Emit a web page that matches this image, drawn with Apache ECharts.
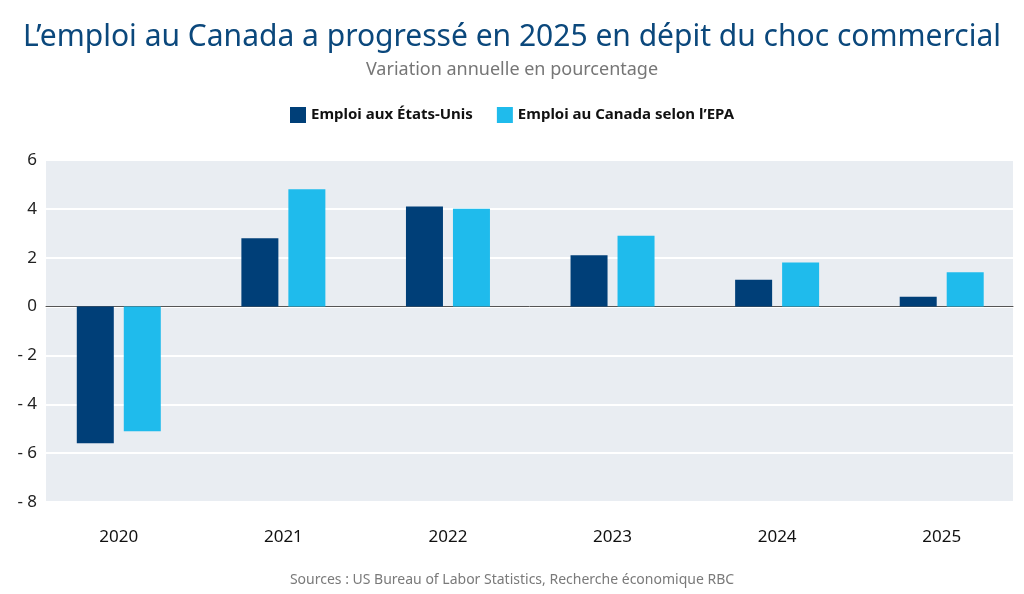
<!DOCTYPE html>
<html>
<head>
<meta charset="utf-8">
<title>Emploi Canada / États-Unis</title>
<script src="https://cdn.jsdelivr.net/npm/echarts@6/dist/echarts.min.js"></script>
<style>
  html, body { margin: 0; padding: 0; background: #fff; }
  #chart { width: 1024px; height: 594px; }
</style>
</head>
<body>
<div id="chart"></div>
<script>
// données (variation annuelle en %)
var years = ['2020', '2021', '2022', '2023', '2024', '2025'];
var usEmploi = [-5.6, 2.8, 4.1, 2.1, 1.1, 0.4];
var caEmploi = [-5.1, 4.8, 4.0, 2.9, 1.8, 1.4];
var yTicks = { min: -8, max: 6, step: 2 };

var FONT = '"Noto Sans", "Open Sans", sans-serif';
var NAVY = '#003f78';
var SKY = '#1fbbec';

var chart = echarts.init(document.getElementById('chart'));

var option = {
    animation: false,
    backgroundColor: '#fff',
    title: [
        {
            text: 'L\u2019emploi au Canada a progressé en 2025 en dépit du choc commercial',
            left: 'center',
            top: 17,
            textStyle: { color: '#0b487c', fontSize: 30, fontWeight: 'normal', fontFamily: FONT }
        },
        {
            text: 'Variation annuelle en pourcentage',
            left: 'center',
            top: 56,
            textStyle: { color: '#767676', fontSize: 18, fontWeight: 'normal', fontFamily: FONT }
        },
        {
            text: 'Sources : US Bureau of Labor Statistics, Recherche économique RBC',
            left: 'center',
            top: 568,
            textStyle: { color: '#7a7a7a', fontSize: 14, fontWeight: 'normal', fontFamily: FONT }
        }
    ],
    legend: {
        top: 102,
        left: 'center',
        itemWidth: 16,
        itemHeight: 16,
        itemGap: 24,
        icon: 'rect',
        textStyle: { color: '#111', fontSize: 15, fontWeight: 'bold', fontFamily: FONT },
        data: ['Emploi aux États-Unis', 'Emploi au Canada selon l\u2019EPA']
    },
    grid: [
        // fond gris + lignes de grille
        { left: 46, right: 11, top: 160, bottom: 92, show: true, backgroundColor: '#e9edf2', borderWidth: 0 },
        // barres (catégories un peu plus larges que le fond)
        { left: 36.5, right: -2.5, top: 160, bottom: 92 }
    ],
    xAxis: [
        {
            type: 'category', gridIndex: 0, data: years,
            axisLine: { show: true, onZero: true, lineStyle: { color: '#555', width: 1 } },
            axisTick: { show: false },
            axisLabel: { show: false }
        },
        {
            type: 'category', gridIndex: 1, data: years,
            axisLine: { show: false },
            axisTick: { show: false },
            axisLabel: { color: '#111', fontSize: 17, margin: 27, fontFamily: FONT }
        }
    ],
    yAxis: [
        {
            type: 'value', gridIndex: 0,
            min: yTicks.min, max: yTicks.max, interval: yTicks.step,
            axisLine: { show: false },
            axisTick: { show: false },
            splitLine: { lineStyle: { color: '#fff', width: 2 } },
            axisLabel: {
                color: '#222', fontSize: 17, margin: 9, fontFamily: FONT,
                formatter: function (v) { return v < 0 ? '- ' + Math.abs(v) : '' + v; }
            }
        },
        {
            type: 'value', gridIndex: 1,
            min: yTicks.min, max: yTicks.max, interval: yTicks.step,
            show: false,
            splitLine: { show: false }
        }
    ],
    series: [
        {
            name: 'Emploi aux États-Unis',
            type: 'bar',
            xAxisIndex: 1, yAxisIndex: 1,
            barWidth: 37,
            barGap: '27%',
            itemStyle: { color: NAVY },
            data: usEmploi
        },
        {
            name: 'Emploi au Canada selon l\u2019EPA',
            type: 'bar',
            xAxisIndex: 1, yAxisIndex: 1,
            barWidth: 37,
            barGap: '27%',
            itemStyle: { color: SKY },
            data: caEmploi
        }
    ]
};

chart.setOption(option);
</script>
</body>
</html>
